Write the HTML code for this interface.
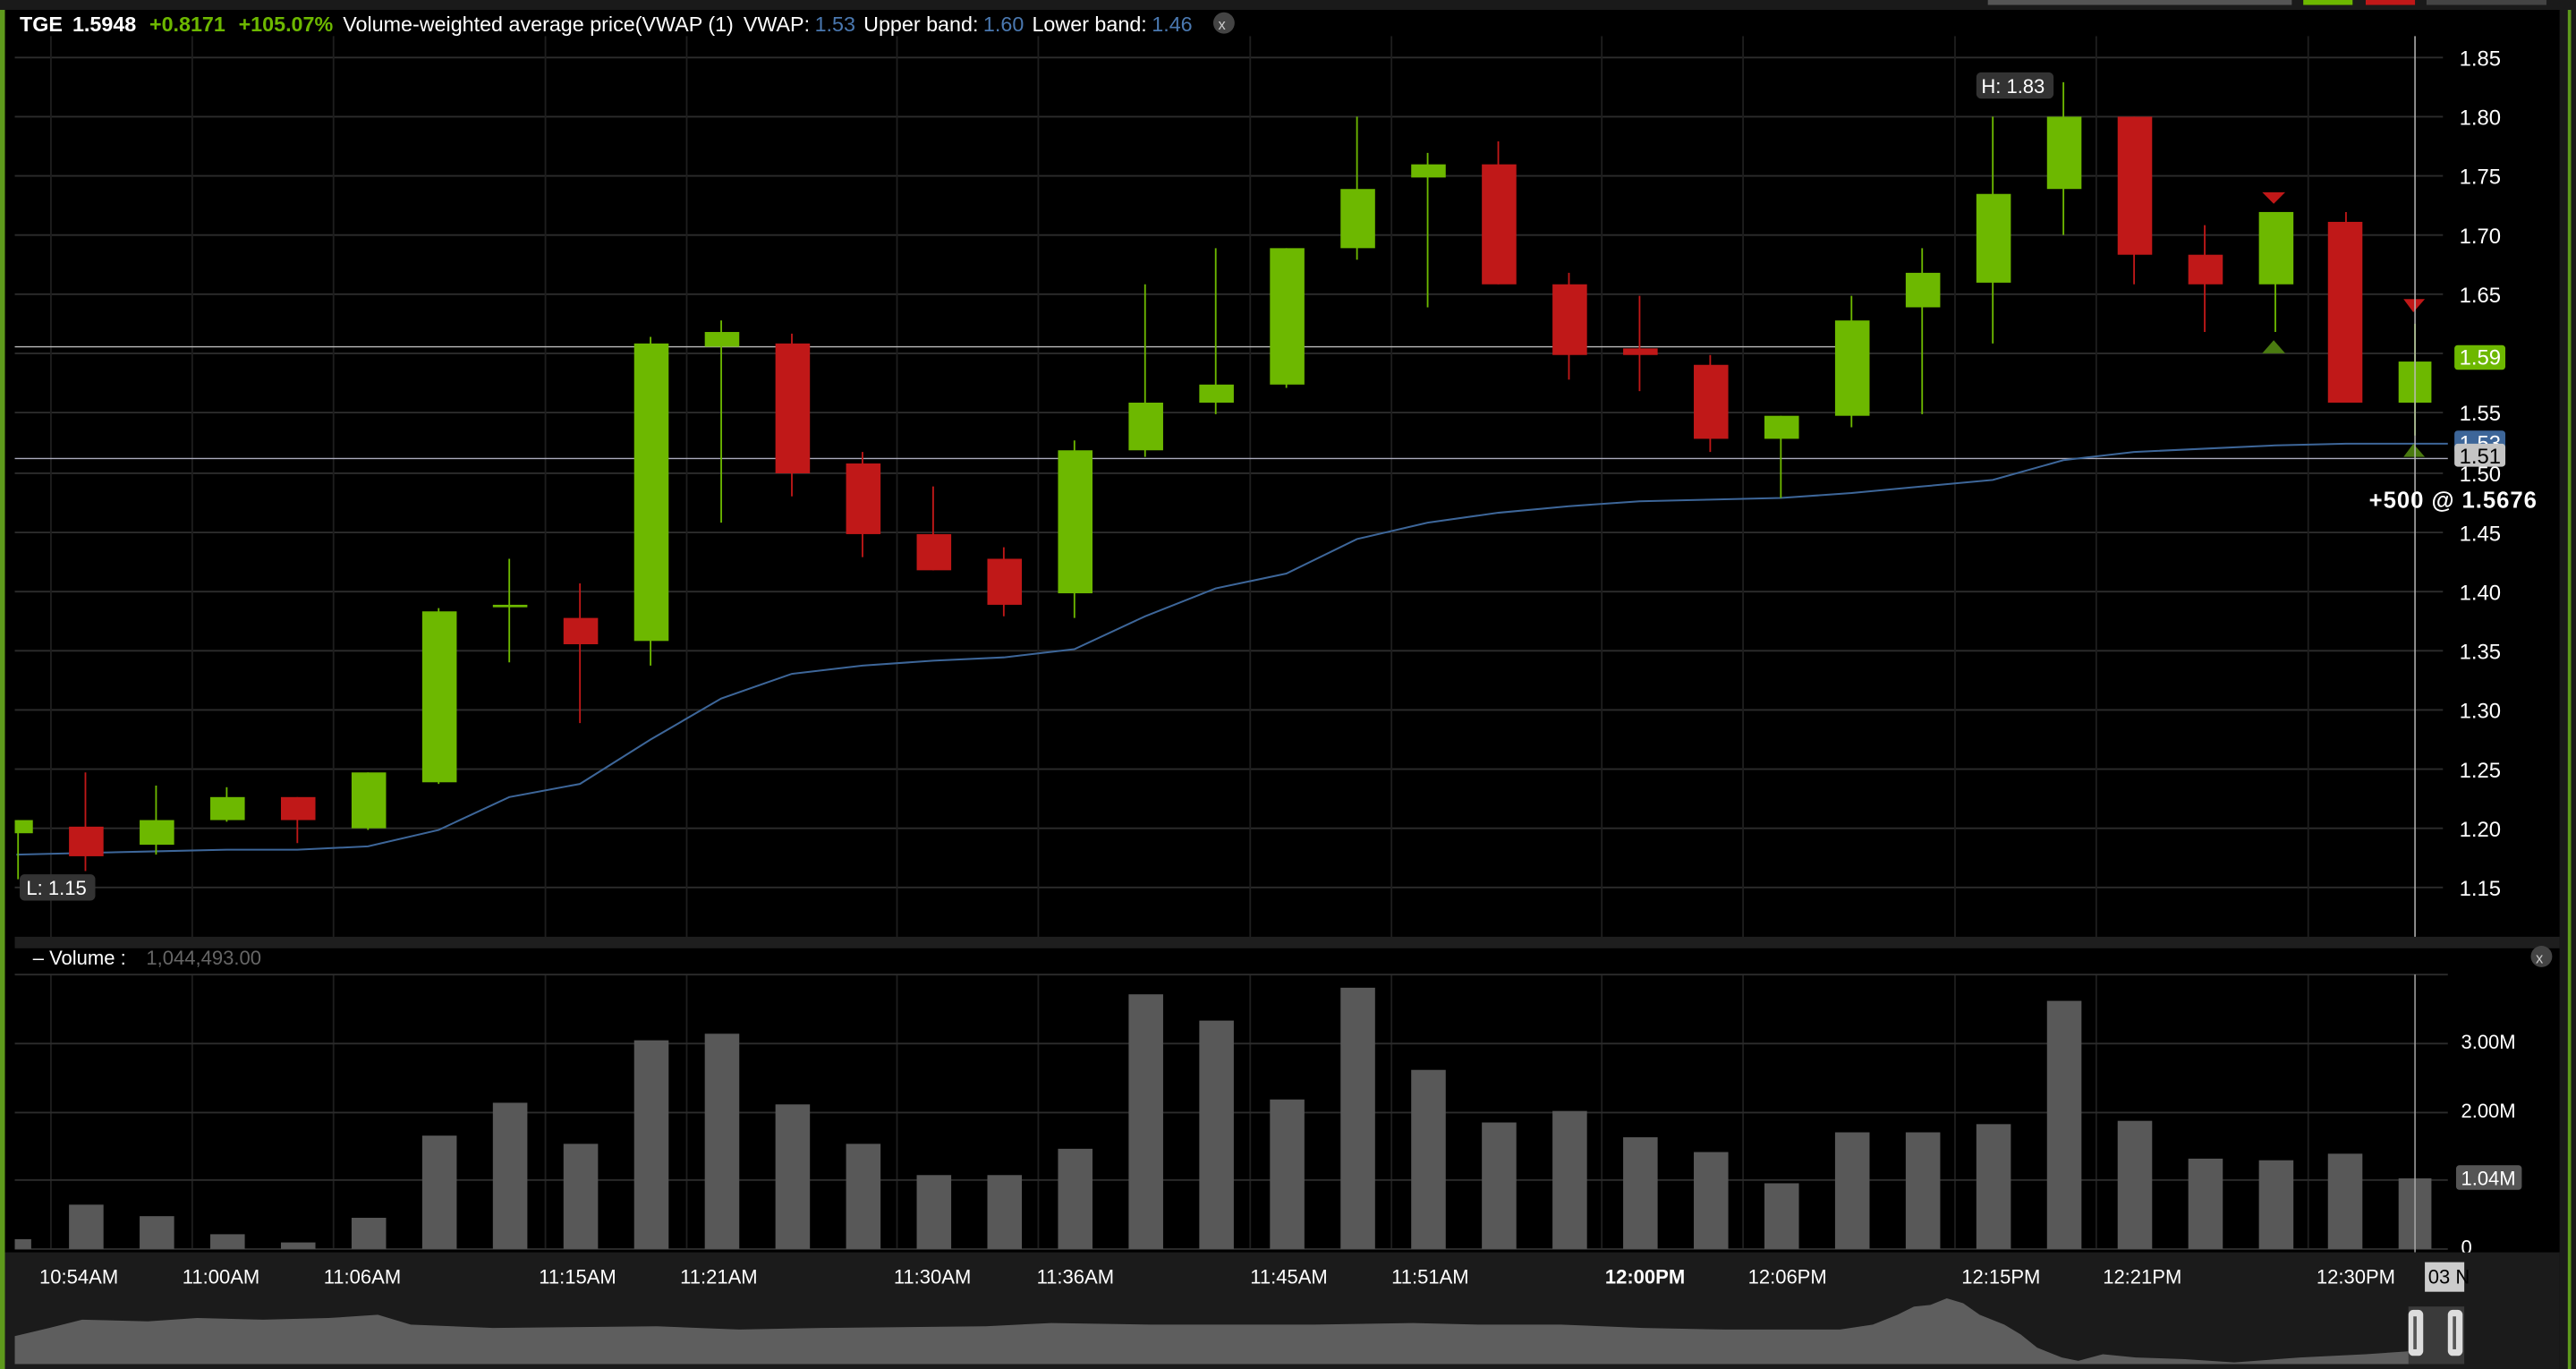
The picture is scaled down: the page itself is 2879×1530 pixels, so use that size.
<!DOCTYPE html>
<html><head><meta charset="utf-8"><style>
html,body{margin:0;padding:0;background:#000;overflow:hidden}
svg{display:block}
text{font-family:"Liberation Sans",sans-serif}
</style></head><body>
<svg width="2879" height="1530" viewBox="0 0 1568 833" preserveAspectRatio="none" xmlns="http://www.w3.org/2000/svg">
<rect x="0" y="0" width="1568" height="833" fill="#000"/>
<rect x="0" y="0" width="1568" height="6" fill="#1a1a1a"/>
<rect x="1210" y="0" width="185" height="3" fill="#555"/>
<rect x="1402" y="0" width="30" height="3" fill="#6db800"/>
<rect x="1440" y="0" width="30" height="3" fill="#c01818"/>
<rect x="1477" y="0" width="73" height="3" fill="#444"/>
<rect x="0" y="6" width="3" height="827" fill="#5e9a1c"/>
<rect x="1558" y="6" width="10" height="827" fill="#1a1a1a"/>
<rect x="1563" y="6" width="2" height="827" fill="#5e9a1c"/>
<g stroke="#2c2c2c" stroke-width="1">
<line x1="9" y1="35" x2="1487" y2="35"/><line x1="9" y1="71" x2="1487" y2="71"/><line x1="9" y1="107" x2="1487" y2="107"/><line x1="9" y1="143" x2="1487" y2="143"/><line x1="9" y1="179" x2="1487" y2="179"/><line x1="9" y1="215" x2="1487" y2="215"/><line x1="9" y1="251" x2="1487" y2="251"/><line x1="9" y1="288" x2="1487" y2="288"/><line x1="9" y1="324" x2="1487" y2="324"/><line x1="9" y1="360" x2="1487" y2="360"/><line x1="9" y1="396" x2="1487" y2="396"/><line x1="9" y1="432" x2="1487" y2="432"/><line x1="9" y1="468" x2="1487" y2="468"/><line x1="9" y1="504" x2="1487" y2="504"/><line x1="9" y1="540" x2="1487" y2="540"/>
</g>
<g stroke="#1e1e1e" stroke-width="1">
<line x1="31" y1="22" x2="31" y2="570"/><line x1="117" y1="22" x2="117" y2="570"/><line x1="203" y1="22" x2="203" y2="570"/><line x1="332" y1="22" x2="332" y2="570"/><line x1="418" y1="22" x2="418" y2="570"/><line x1="546" y1="22" x2="546" y2="570"/><line x1="632" y1="22" x2="632" y2="570"/><line x1="761" y1="22" x2="761" y2="570"/><line x1="847" y1="22" x2="847" y2="570"/><line x1="975" y1="22" x2="975" y2="570"/><line x1="1061" y1="22" x2="1061" y2="570"/><line x1="1190" y1="22" x2="1190" y2="570"/><line x1="1276" y1="22" x2="1276" y2="570"/><line x1="1405" y1="22" x2="1405" y2="570"/>
<line x1="31" y1="593" x2="31" y2="760"/><line x1="117" y1="593" x2="117" y2="760"/><line x1="203" y1="593" x2="203" y2="760"/><line x1="332" y1="593" x2="332" y2="760"/><line x1="418" y1="593" x2="418" y2="760"/><line x1="546" y1="593" x2="546" y2="760"/><line x1="632" y1="593" x2="632" y2="760"/><line x1="761" y1="593" x2="761" y2="760"/><line x1="847" y1="593" x2="847" y2="760"/><line x1="975" y1="593" x2="975" y2="760"/><line x1="1061" y1="593" x2="1061" y2="760"/><line x1="1190" y1="593" x2="1190" y2="760"/><line x1="1276" y1="593" x2="1276" y2="760"/><line x1="1405" y1="593" x2="1405" y2="760"/>
</g>
<line x1="9" y1="211" x2="1127" y2="211" stroke="#bbb" stroke-width="0.8"/>
<line x1="9" y1="279" x2="1490" y2="279" stroke="#aab" stroke-width="0.8"/>
<polyline fill="none" stroke="#3d6699" stroke-width="1.1" points="10,520 52,519 95,518 138,517 181,517 224,515 267,505 310,485 353,477 396,450 439,425 482,410 525,405 568,402 611,400 654,395 697,375 740,358 783,349 826,328 869,318 912,312 955,308 998,305 1041,304 1084,303 1127,300 1170,296 1213,292 1256,280 1299,275 1342,273 1385,271 1428,270 1470,270 1490,270"/>
<g stroke-width="1">
<line x1="11" y1="499" x2="11" y2="535" stroke="#6db800"/>
<line x1="52" y1="470" x2="52" y2="530" stroke="#c01818"/>
<line x1="95" y1="478" x2="95" y2="520" stroke="#6db800"/>
<line x1="138" y1="479" x2="138" y2="500" stroke="#6db800"/>
<line x1="181" y1="485" x2="181" y2="513" stroke="#c01818"/>
<line x1="224" y1="470" x2="224" y2="505" stroke="#6db800"/>
<line x1="267" y1="370" x2="267" y2="477" stroke="#6db800"/>
<line x1="310" y1="340" x2="310" y2="403" stroke="#6db800"/>
<line x1="353" y1="355" x2="353" y2="440" stroke="#c01818"/>
<line x1="396" y1="205" x2="396" y2="405" stroke="#6db800"/>
<line x1="439" y1="195" x2="439" y2="318" stroke="#6db800"/>
<line x1="482" y1="203" x2="482" y2="302" stroke="#c01818"/>
<line x1="525" y1="275" x2="525" y2="339" stroke="#c01818"/>
<line x1="568" y1="296" x2="568" y2="347" stroke="#c01818"/>
<line x1="611" y1="333" x2="611" y2="375" stroke="#c01818"/>
<line x1="654" y1="268" x2="654" y2="376" stroke="#6db800"/>
<line x1="697" y1="173" x2="697" y2="278" stroke="#6db800"/>
<line x1="740" y1="151" x2="740" y2="252" stroke="#6db800"/>
<line x1="783" y1="151" x2="783" y2="236" stroke="#6db800"/>
<line x1="826" y1="71" x2="826" y2="158" stroke="#6db800"/>
<line x1="869" y1="93" x2="869" y2="187" stroke="#6db800"/>
<line x1="912" y1="86" x2="912" y2="173" stroke="#c01818"/>
<line x1="955" y1="166" x2="955" y2="231" stroke="#c01818"/>
<line x1="998" y1="180" x2="998" y2="238" stroke="#c01818"/>
<line x1="1041" y1="216" x2="1041" y2="275" stroke="#c01818"/>
<line x1="1084" y1="253" x2="1084" y2="303" stroke="#6db800"/>
<line x1="1127" y1="180" x2="1127" y2="260" stroke="#6db800"/>
<line x1="1170" y1="151" x2="1170" y2="252" stroke="#6db800"/>
<line x1="1213" y1="71" x2="1213" y2="209" stroke="#6db800"/>
<line x1="1256" y1="50" x2="1256" y2="143" stroke="#6db800"/>
<line x1="1299" y1="71" x2="1299" y2="173" stroke="#c01818"/>
<line x1="1342" y1="137" x2="1342" y2="202" stroke="#c01818"/>
<line x1="1385" y1="129" x2="1385" y2="202" stroke="#6db800"/>
<line x1="1428" y1="129" x2="1428" y2="245" stroke="#c01818"/>
<line x1="1470" y1="197" x2="1470" y2="265" stroke="#6db800"/>
</g>
<g>
<rect x="9" y="499" width="11" height="8" fill="#6db800"/>
<rect x="42" y="503" width="21" height="18" fill="#c01818"/>
<rect x="85" y="499" width="21" height="15" fill="#6db800"/>
<rect x="128" y="485" width="21" height="14" fill="#6db800"/>
<rect x="171" y="485" width="21" height="14" fill="#c01818"/>
<rect x="214" y="470" width="21" height="34" fill="#6db800"/>
<rect x="257" y="372" width="21" height="104" fill="#6db800"/>
<rect x="300" y="368" width="21" height="1.5" fill="#6db800"/>
<rect x="343" y="376" width="21" height="16" fill="#c01818"/>
<rect x="386" y="209" width="21" height="181" fill="#6db800"/>
<rect x="429" y="202" width="21" height="9" fill="#6db800"/>
<rect x="472" y="209" width="21" height="79" fill="#c01818"/>
<rect x="515" y="282" width="21" height="43" fill="#c01818"/>
<rect x="558" y="325" width="21" height="22" fill="#c01818"/>
<rect x="601" y="340" width="21" height="28" fill="#c01818"/>
<rect x="644" y="274" width="21" height="87" fill="#6db800"/>
<rect x="687" y="245" width="21" height="29" fill="#6db800"/>
<rect x="730" y="234" width="21" height="11" fill="#6db800"/>
<rect x="773" y="151" width="21" height="83" fill="#6db800"/>
<rect x="816" y="115" width="21" height="36" fill="#6db800"/>
<rect x="859" y="100" width="21" height="8" fill="#6db800"/>
<rect x="902" y="100" width="21" height="73" fill="#c01818"/>
<rect x="945" y="173" width="21" height="43" fill="#c01818"/>
<rect x="988" y="212" width="21" height="4" fill="#c01818"/>
<rect x="1031" y="222" width="21" height="45" fill="#c01818"/>
<rect x="1074" y="253" width="21" height="14" fill="#6db800"/>
<rect x="1117" y="195" width="21" height="58" fill="#6db800"/>
<rect x="1160" y="166" width="21" height="21" fill="#6db800"/>
<rect x="1203" y="118" width="21" height="54" fill="#6db800"/>
<rect x="1246" y="71" width="21" height="44" fill="#6db800"/>
<rect x="1289" y="71" width="21" height="84" fill="#c01818"/>
<rect x="1332" y="155" width="21" height="18" fill="#c01818"/>
<rect x="1375" y="129" width="21" height="44" fill="#6db800"/>
<rect x="1417" y="135" width="21" height="110" fill="#c01818"/>
<rect x="1460" y="220" width="20" height="25" fill="#6db800"/>
</g>
<polygon points="1377,117 1391,117 1384,124" fill="#c01818"/>
<polygon points="1377,215 1391,215 1384,207" fill="#4a7a10"/>
<polygon points="1463,182 1476,182 1469,190" fill="#c01818"/>
<polygon points="1463,278 1476,278 1469,270" fill="#4a7a10"/>
<line x1="1470" y1="22" x2="1470" y2="570" stroke="#bbb" stroke-width="0.8"/>
<rect x="1203" y="44" width="47" height="16" rx="3" fill="#333"/>
<text x="1206" y="56.5" font-size="12" fill="#fff">H: 1.83</text>
<rect x="12" y="532" width="46" height="16" rx="3" fill="#333"/>
<text x="16" y="544.5" font-size="12" fill="#fff">L: 1.15</text>
<g font-size="13" fill="#fff">
<text x="1497" y="40">1.85</text><text x="1497" y="76">1.80</text><text x="1497" y="112">1.75</text><text x="1497" y="148">1.70</text><text x="1497" y="184">1.65</text><text x="1497" y="256">1.55</text><text x="1497" y="293">1.50</text><text x="1497" y="329">1.45</text><text x="1497" y="365">1.40</text><text x="1497" y="401">1.35</text><text x="1497" y="437">1.30</text><text x="1497" y="473">1.25</text><text x="1497" y="509">1.20</text><text x="1497" y="545">1.15</text>
</g>
<rect x="1494" y="210" width="31" height="15" rx="2" fill="#6db800"/>
<text x="1497" y="222" font-size="13" fill="#fff">1.59</text>
<rect x="1494" y="262" width="31" height="14" rx="2" fill="#3d6699"/>
<text x="1497" y="274" font-size="13" fill="#fff">1.53</text>
<rect x="1494" y="270" width="31" height="14" rx="2" fill="#c4c4c4"/>
<text x="1497" y="282" font-size="13" fill="#000">1.51</text>
<text x="1442" y="309" font-size="14" font-weight="bold" fill="#fff" textLength="102">+500 @ 1.5676</text>
<text x="12" y="19" font-size="12.7" fill="#fff"><tspan font-weight="bold">TGE</tspan><tspan dx="6" font-weight="bold">1.5948</tspan><tspan dx="8" fill="#6db800" font-weight="bold">+0.8171</tspan><tspan dx="8" fill="#6db800" font-weight="bold">+105.07%</tspan><tspan dx="6">Volume-weighted average price(VWAP (1)</tspan><tspan dx="6">VWAP:</tspan><tspan dx="3" fill="#4a78b0">1.53</tspan><tspan dx="5">Upper band:</tspan><tspan dx="3" fill="#4a78b0">1.60</tspan><tspan dx="5">Lower band:</tspan><tspan dx="3" fill="#4a78b0">1.46</tspan></text>
<circle cx="745" cy="14" r="6.5" fill="#444"/>
<text x="741.5" y="18" font-size="9" fill="#ccc">x</text>
<rect x="9" y="570" width="1549" height="7" fill="#1e1e1e"/>
<text x="20" y="587" font-size="12" fill="#fff">– Volume  :</text>
<text x="89" y="587" font-size="12" fill="#666">1,044,493.00</text>
<circle cx="1547" cy="582" r="6.5" fill="#444"/>
<text x="1543.5" y="586" font-size="9" fill="#ccc">x</text>
<g stroke="#2c2c2c"><line x1="9" y1="593" x2="1490" y2="593"/><line x1="9" y1="635" x2="1490" y2="635"/><line x1="9" y1="677" x2="1490" y2="677"/><line x1="9" y1="718" x2="1490" y2="718"/><line x1="9" y1="760" x2="1490" y2="760"/></g>
<g fill="#585858">
<rect x="9" y="754" width="10" height="6"/>
<rect x="42" y="733" width="21" height="27"/>
<rect x="85" y="740" width="21" height="20"/>
<rect x="128" y="751" width="21" height="9"/>
<rect x="171" y="756" width="21" height="4"/>
<rect x="214" y="741" width="21" height="19"/>
<rect x="257" y="691" width="21" height="69"/>
<rect x="300" y="671" width="21" height="89"/>
<rect x="343" y="696" width="21" height="64"/>
<rect x="386" y="633" width="21" height="127"/>
<rect x="429" y="629" width="21" height="131"/>
<rect x="472" y="672" width="21" height="88"/>
<rect x="515" y="696" width="21" height="64"/>
<rect x="558" y="715" width="21" height="45"/>
<rect x="601" y="715" width="21" height="45"/>
<rect x="644" y="699" width="21" height="61"/>
<rect x="687" y="605" width="21" height="155"/>
<rect x="730" y="621" width="21" height="139"/>
<rect x="773" y="669" width="21" height="91"/>
<rect x="816" y="601" width="21" height="159"/>
<rect x="859" y="651" width="21" height="109"/>
<rect x="902" y="683" width="21" height="77"/>
<rect x="945" y="676" width="21" height="84"/>
<rect x="988" y="692" width="21" height="68"/>
<rect x="1031" y="701" width="21" height="59"/>
<rect x="1074" y="720" width="21" height="40"/>
<rect x="1117" y="689" width="21" height="71"/>
<rect x="1160" y="689" width="21" height="71"/>
<rect x="1203" y="684" width="21" height="76"/>
<rect x="1246" y="609" width="21" height="151"/>
<rect x="1289" y="682" width="21" height="78"/>
<rect x="1332" y="705" width="21" height="55"/>
<rect x="1375" y="706" width="21" height="54"/>
<rect x="1417" y="702" width="21" height="58"/>
<rect x="1460" y="717" width="20" height="43"/>
</g>
<line x1="1470" y1="593" x2="1470" y2="762" stroke="#aaa" stroke-width="0.8"/>
<g font-size="12" fill="#fff">
<text x="1498" y="638">3.00M</text><text x="1498" y="680">2.00M</text><text x="1498" y="763">0</text>
</g>
<rect x="1495" y="709" width="40" height="15" rx="2" fill="#555"/>
<text x="1498" y="721" font-size="12" fill="#fff">1.04M</text>
<rect x="3" y="762" width="1555" height="71" fill="#1b1b1b"/>
<g font-size="12" fill="#fff">
<text x="24" y="781">10:54AM</text><text x="111" y="781">11:00AM</text><text x="197" y="781">11:06AM</text><text x="328" y="781">11:15AM</text><text x="414" y="781">11:21AM</text><text x="544" y="781">11:30AM</text><text x="631" y="781">11:36AM</text><text x="761" y="781">11:45AM</text><text x="847" y="781">11:51AM</text><text x="977" y="781" font-weight="bold">12:00PM</text><text x="1064" y="781">12:06PM</text><text x="1194" y="781">12:15PM</text><text x="1280" y="781">12:21PM</text><text x="1410" y="781">12:30PM</text>
</g>
<rect x="1476" y="768" width="24" height="18" fill="#ccc"/>
<text x="1478" y="781" font-size="12" fill="#000">03 N</text>
<path fill="#5e5e5e" d="M9,828 L9,813 L30,808 L50,803 L90,804 L120,802 L160,803 L200,802 L230,800 L250,806 L300,808 L400,807 L450,809 L500,808 L600,807 L640,805 L700,806 L800,806 L860,805 L900,806 L950,806 L1000,808 L1050,809 L1120,809 L1140,806 L1155,800 L1165,795 L1175,794 L1185,790 L1195,793 L1205,800 L1220,806 L1230,812 L1240,820 L1255,826 L1265,828 L1280,824 L1300,826 L1330,827 L1360,829 L1400,826 L1440,824 L1470,822 L1470,830 L9,830 Z"/>
<rect x="1466" y="795" width="34" height="35" fill="#3a3a3a"/>
<rect x="1466" y="797" width="9" height="28" rx="3" fill="#ddd"/>
<rect x="1490" y="797" width="9" height="28" rx="3" fill="#ddd"/>
<rect x="1469" y="801" width="2" height="20" fill="#555"/>
<rect x="1493" y="801" width="2" height="20" fill="#555"/>
</svg>
</body></html>
